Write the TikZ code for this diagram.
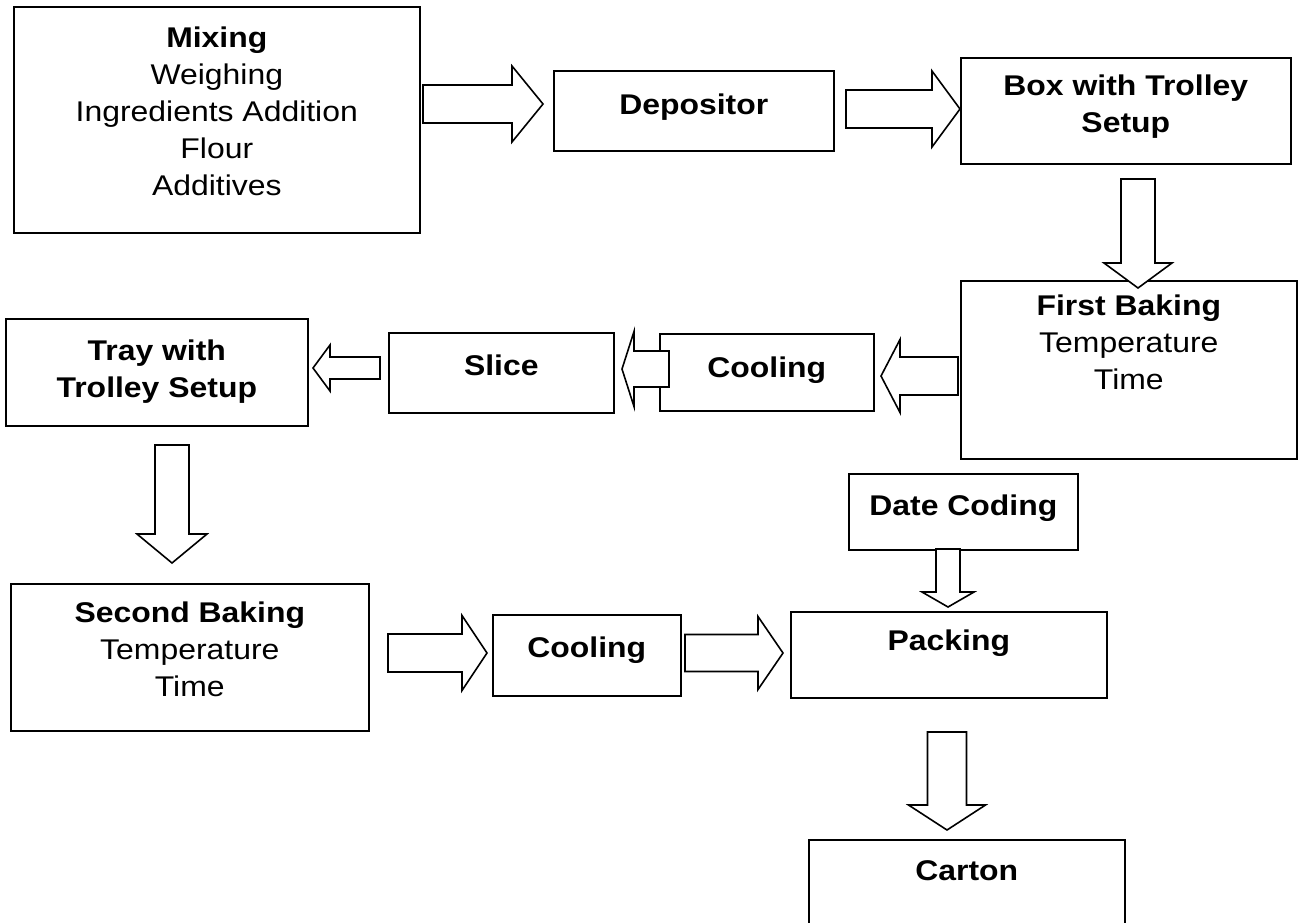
\documentclass[tikz,border=0pt]{standalone}
\usepackage{fontspec}
\setmainfont[FakeStretch=1.12]{Liberation Sans}
\usetikzlibrary{positioning,calc}
\tikzset{
  stage/.style={rectangle, draw=black, fill=white, line width=1.6pt, anchor=north west, inner sep=0pt},
  txt/.style={align=center, inner sep=3pt, font=\fontsize{28.5}{37}\selectfont},
  fat/.style={draw=black, fill=white, line width=1.6pt, line join=miter}
}
% hollow block arrow: tail, tip, shaft half width, head half width, head length
\newcommand{\fatarrow}[5]{%
  \path ($(#2)!#5!(#1)$) coordinate (hb);
  \draw[fat] ($(#1)!#3!90:(#2)$) -- ($(hb)!#3!-90:(#1)$) -- ($(hb)!#4!-90:(#1)$) -- (#2)
    -- ($(hb)!#4!90:(#1)$) -- ($(hb)!#3!90:(#1)$) -- ($(#1)!#3!-90:(#2)$) -- cycle;}

\begin{document}
\begin{tikzpicture}[x=1pt, y=-1pt]
  \useasboundingbox (0,0) rectangle (1311,922);
  % stages
  \node[stage, minimum width=406pt, minimum height=226pt] (mix) at (13,6) {};
  \node[stage, minimum width=280pt, minimum height=80pt] (dep) at (553,70) {};
  \node[stage, minimum width=330pt, minimum height=106pt] (box) at (960,57) {};
  \node[stage, minimum width=336pt, minimum height=178pt] (fb) at (960,280) {};
  \node[stage, minimum width=214pt, minimum height=77pt] (cool1) at (659,333) {};
  \node[stage, minimum width=225pt, minimum height=80pt] (slice) at (388,332) {};
  \node[stage, minimum width=302pt, minimum height=107pt] (tray) at (5,318) {};
  \node[stage, minimum width=358pt, minimum height=147pt] (sb) at (10,583) {};
  \node[stage, minimum width=188pt, minimum height=81pt] (cool2) at (492,614) {};
  \node[stage, minimum width=316pt, minimum height=86pt] (pack) at (790,611) {};
  \node[stage, minimum width=229pt, minimum height=76pt] (date) at (848,473) {};
  \node[stage, minimum width=316pt, minimum height=100pt] (carton) at (808,839) {};

  % texts
  \node[txt, below=17.5pt of mix.north] (mixT) {\textbf{Mixing}\\Weighing\\Ingredients Addition\\Flour\\Additives};
  \node[txt, below=21pt of dep.north] (depT) {\textbf{Depositor}};
  \node[txt, below=14.5pt of box.north] (boxT) {\textbf{Box with Trolley}\\\textbf{Setup}};
  \node[txt, below=11.5pt of fb.north] (fbT) {\textbf{First Baking}\\Temperature\\Time};
  \node[txt, below=21pt of cool1.north] (cool1T) {\textbf{Cooling}};
  \node[txt, below=19.5pt of slice.north] (sliceT) {\textbf{Slice}};
  \node[txt, below=18.5pt of tray.north] (trayT) {\textbf{Tray with}\\\textbf{Trolley Setup}};
  \node[txt, below=15.5pt of sb.north] (sbT) {\textbf{Second Baking}\\Temperature\\Time};
  \node[txt, below=19.5pt of cool2.north] (cool2T) {\textbf{Cooling}};
  \node[txt, below=15.5pt of pack.north] (packT) {\textbf{Packing}};
  \node[txt, below=18.5pt of date.north] (dateT) {\textbf{Date Coding}};
  \node[txt, below=18.5pt of carton.north] (cartonT) {\textbf{Carton}};

  % arrow ends
  \coordinate (a1s) at (423,104);  \coordinate (a1e) at (543,104);
  \coordinate (a2s) at (846,109);  \coordinate (a2e) at (960,109);
  \coordinate (a3s) at (1138,179); \coordinate (a3e) at (1138,288);
  \coordinate (a4s) at (958,376);  \coordinate (a4e) at (881,376);
  \coordinate (a5s) at (669,369);  \coordinate (a5e) at (622,369);
  \coordinate (a6s) at (380,368);  \coordinate (a6e) at (313,368);
  \coordinate (a7s) at (172,445);  \coordinate (a7e) at (172,563);
  \coordinate (a8s) at (388,653);  \coordinate (a8e) at (487,653);
  \coordinate (a9s) at (685,653);  \coordinate (a9e) at (783,653);
  \coordinate (a10s) at (948,549); \coordinate (a10e) at (948,607);
  \coordinate (a11s) at (947,732); \coordinate (a11e) at (947,830);

  \fatarrow{a1s}{a1e}{19pt}{38pt}{31pt}
  \fatarrow{a2s}{a2e}{19pt}{38pt}{28pt}
  \fatarrow{a3s}{a3e}{17pt}{34pt}{25pt}
  \fatarrow{a4s}{a4e}{19pt}{36.5pt}{19pt}
  \fatarrow{a5s}{a5e}{18pt}{37.5pt}{12pt}
  \fatarrow{a6s}{a6e}{11pt}{23pt}{17pt}
  \fatarrow{a7s}{a7e}{17pt}{35pt}{29pt}
  \fatarrow{a8s}{a8e}{19pt}{37.5pt}{25pt}
  \fatarrow{a9s}{a9e}{18.5pt}{36.5pt}{25pt}
  \fatarrow{a10s}{a10e}{12pt}{26pt}{15pt}
  \fatarrow{a11s}{a11e}{19.5pt}{38.5pt}{25pt}
\end{tikzpicture}
\end{document}
